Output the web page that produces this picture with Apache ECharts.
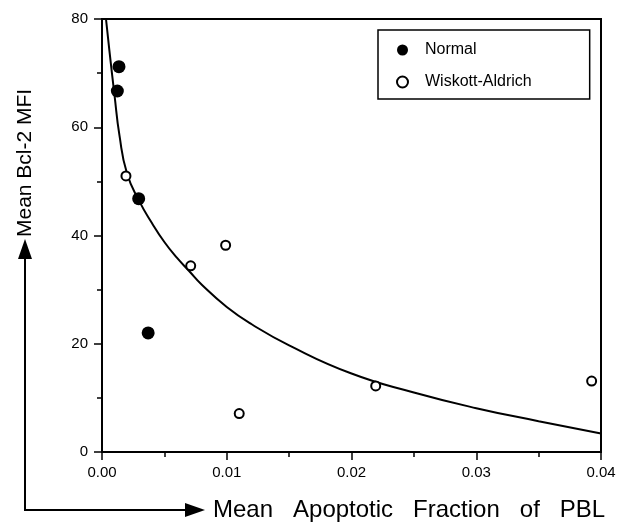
<!DOCTYPE html>
<html>
<head>
<meta charset="utf-8">
<script src="https://cdn.jsdelivr.net/npm/echarts@6/dist/echarts.min.js"></script>
<style>
  html, body { margin: 0; padding: 0; background: #fff; }
  #chart { width: 620px; height: 529px; }
</style>
</head>
<body>
<div id="chart"></div>
<script>
// values
const normalX = [0.00136, 0.00123, 0.00294, 0.0037];
const normalY = [71.2, 66.7, 46.8, 22.0];
const waX = [0.00192, 0.00711, 0.00991, 0.0110, 0.02194, 0.03925];
const waY = [51.0, 34.4, 38.2, 7.1, 12.2, 13.1];
// fitted curve
const curveX = [0.00032, 0.0006, 0.001, 0.0014, 0.002, 0.003, 0.004, 0.005, 0.006, 0.007, 0.008, 0.010, 0.012, 0.015, 0.020, 0.025, 0.030, 0.035, 0.040];
const curveY = [80, 74, 66, 58.5, 51.5, 46.3, 42.3, 38.8, 35.9, 33.4, 30.9, 26.8, 23.6, 19.7, 14.5, 11.0, 8.1, 5.7, 3.4];

const xTicks = { min: 0, max: 0.04, interval: 0.01 };
const yTicks = { min: 0, max: 80, interval: 20 };

const zip = (xs, ys) => xs.map((x, i) => [x, ys[i]]);
const FONT = '"Liberation Sans", Arial, sans-serif';

const chart = echarts.init(document.getElementById('chart'), null, { renderer: 'canvas' });

const axisCommon = {
  type: 'value',
  axisLine: { show: true, lineStyle: { color: '#000', width: 2 } },
  axisTick: { show: true, length: 8, lineStyle: { color: '#000', width: 1.5 } },
  minorTick: { show: true, splitNumber: 2, length: 5, lineStyle: { color: '#000', width: 1.5 } },
  splitLine: { show: false },
  axisLabel: { color: '#000', fontSize: 15, fontFamily: FONT }
};

chart.setOption({
  animation: false,
  backgroundColor: '#fff',
  grid: {
    left: 102, top: 19, right: 19, bottom: 77,
    show: true, borderColor: '#000', borderWidth: 2, backgroundColor: 'transparent'
  },
  xAxis: {
    ...axisCommon,
    ...xTicks,
    axisLabel: { ...axisCommon.axisLabel, margin: 13, formatter: (v) => v.toFixed(2) }
  },
  yAxis: {
    ...axisCommon,
    ...yTicks,
    axisLabel: { ...axisCommon.axisLabel, margin: 14 }
  },
  legend: {
    data: ['Normal', 'Wiskott-Aldrich'],
    orient: 'vertical',
    left: 378, top: 30,
    padding: [12, 58, 9, 18],
    itemGap: 16,
    itemWidth: 11, itemHeight: 11,
    borderColor: '#000', borderWidth: 1.5,
    backgroundColor: '#fff',
    textStyle: { color: '#000', fontSize: 16, fontFamily: FONT, padding: [0, 0, 0, 12] }
  },
  series: [
    {
      name: 'fit',
      type: 'line',
      data: zip(curveX, curveY),
      smooth: 0.5,
      showSymbol: false,
      lineStyle: { color: '#000', width: 2 },
      clip: true,
      z: 1
    },
    {
      name: 'Normal',
      type: 'scatter',
      data: zip(normalX, normalY),
      symbol: 'circle',
      symbolSize: 13,
      itemStyle: { color: '#000', opacity: 1 },
      z: 3
    },
    {
      name: 'Wiskott-Aldrich',
      type: 'scatter',
      data: zip(waX, waY),
      symbol: 'circle',
      symbolSize: 9,
      itemStyle: { color: '#fff', borderColor: '#000', borderWidth: 2, opacity: 1 },
      z: 3
    }
  ],
  graphic: [
    {
      type: 'polyline',
      shape: { points: [[25, 256], [25, 510], [188, 510]] },
      style: { stroke: '#000', lineWidth: 2, fill: null }
    },
    {
      type: 'polygon',
      shape: { points: [[25, 239], [18, 259], [32, 259]] },
      style: { fill: '#000' }
    },
    {
      type: 'polygon',
      shape: { points: [[205, 510], [185, 503], [185, 517]] },
      style: { fill: '#000' }
    },
    {
      type: 'text',
      x: 213, y: 510,
      style: {
        text: 'Mean   Apoptotic   Fraction   of   PBL',
        font: '24px ' + FONT, fill: '#000', textVerticalAlign: 'middle'
      }
    },
    {
      type: 'text',
      x: 25, y: 237,
      rotation: Math.PI / 2,
      style: {
        text: 'Mean Bcl-2 MFI',
        font: '21px ' + FONT, fill: '#000', textVerticalAlign: 'middle', textAlign: 'left'
      }
    }
  ]
});
</script>
</body>
</html>
